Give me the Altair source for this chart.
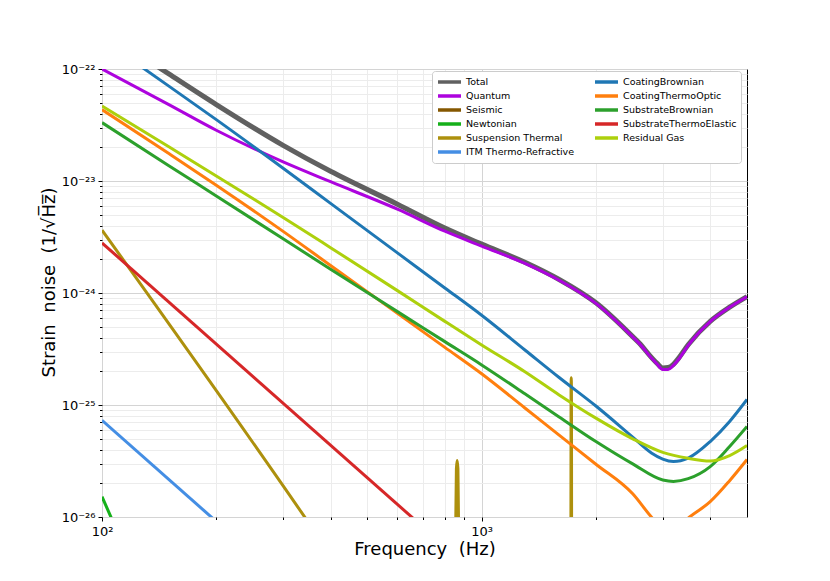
import altair as alt
import pandas as pd

# ---------------- data ----------------
grid_q = [100, 150, 200, 300, 400, 600, 800, 1000, 1300, 1600, 2000, 2500, 2600,
          2800, 2900, 3000, 3100, 3200, 3300, 3500, 4000, 4500, 5000]
total_vals = [2.22e-22, 9.03e-23, 4.81e-23, 2.08e-23, 1.22e-23, 6.21e-24, 3.80e-24,
              2.73e-24, 1.88e-24, 1.32e-24, 8.17e-25, 4.08e-25, 3.58e-25, 2.66e-25,
              2.35e-25, 2.14e-25, 2.16e-25, 2.31e-25, 2.61e-25, 3.45e-25, 5.58e-25,
              7.47e-25, 9.28e-25]
quantum_vals = [1.0e-22, 4.81e-23, 2.84e-23, 1.48e-23, 9.85e-24, 5.6e-24, 3.56e-24,
                2.62e-24, 1.84e-24, 1.30e-24, 8.07e-25, 4.05e-25, 3.55e-25, 2.63e-25,
                2.31e-25, 2.08e-25, 2.08e-25, 2.26e-25, 2.55e-25, 3.41e-25, 5.56e-25,
                7.45e-25, 9.25e-25]

cb_freq = [100, 150, 200, 300, 400, 600, 800, 1000, 1300, 1600, 2000, 2500, 2800,
           3000, 3200, 3500, 4000, 4500, 5000]
cb_vals = [1.85e-22, 7.03e-23, 3.53e-23, 1.30e-23, 6.31e-24, 2.28e-24, 1.11e-24,
           6.33e-25, 3.10e-25, 1.76e-25, 9.8e-26, 5.17e-26, 3.73e-26, 3.29e-26,
           3.13e-26, 3.36e-26, 4.72e-26, 7.13e-26, 1.12e-25]

gas_freq = [100, 150, 200, 300, 400, 600, 800, 1000, 1300, 1600, 2000, 2500, 3000,
            3500, 4000, 4500, 5000]
gas_vals = [4.67e-23, 2.02e-23, 1.11e-23, 4.73e-24, 2.54e-24, 1.05e-24, 5.58e-25,
            3.44e-25, 1.98e-25, 1.23e-25, 7.63e-26, 4.99e-26, 3.77e-26, 3.34e-26,
            3.16e-26, 3.54e-26, 4.35e-26]

cto_freq = [100, 150, 200, 300, 400, 600, 800, 1000, 1300, 1600, 2000, 2500, 2800,
            3100, 3530, 4000, 4500, 5000]
cto_vals = [4.34e-23, 1.76e-23, 9.18e-24, 3.55e-24, 1.76e-24, 6.58e-25, 3.27e-25,
            1.90e-25, 9.41e-26, 5.38e-26, 2.96e-26, 1.61e-26, 1.0e-26, 7.0e-27,
            1.0e-26, 1.37e-26, 2.11e-26, 3.26e-26]

sb_freq = [100, 150, 200, 300, 400, 600, 800, 1000, 1300, 1600, 2000, 2500, 3000,
           3200, 3500, 4000, 4500, 5000]
sb_vals = [3.32e-23, 1.37e-23, 7.35e-24, 3.05e-24, 1.63e-24, 6.82e-25, 3.68e-25,
           2.28e-25, 1.26e-25, 7.83e-26, 4.72e-26, 2.98e-26, 2.14e-26, 2.08e-26,
           2.20e-26, 2.82e-26, 4.26e-26, 6.43e-26]

ste_freq = [100, 1000]
ste_vals = [2.8e-24, 2.8e-27]

itm_freq = [100, 1000]
itm_vals = [7.3e-26, 7.3e-29]

newt_freq = [100, 120]
newt_vals = [1.52e-26, 3.7e-27]

susp_freq = [100, 400, 850, 855, 858, 862, 866, 869, 874, 1716, 1720, 1722, 1724,
             1728, 5000]
susp_vals = [3.64e-24, 4.6e-27, 1e-28, 1.0e-26, 2.7e-26, 3.2e-26, 2.7e-26, 1.0e-26,
             1e-28, 1e-28, 1.3e-25, 1.75e-25, 1.3e-25, 1e-28, 1e-28]

# legend (filled column by column, two columns)
legend_names = ["Total", "Quantum", "Seismic", "Newtonian", "Suspension Thermal",
                "ITM Thermo-Refractive", "CoatingBrownian", "CoatingThermoOptic",
                "SubstrateBrownian", "SubstrateThermoElastic", "Residual Gas"]
legend_colors = ["#606060", "#ad03de", "#855700", "#15b01a", "#ad900d",
                 "#448ee4", "#1f77b4", "#ff7f0e", "#2ca02c", "#d62728", "#add00d"]

y_major = [1e-26, 1e-25, 1e-24, 1e-23, 1e-22]
y_major_labels = ["10⁻²⁶", "10⁻²⁵", "10⁻²⁴", "10⁻²³", "10⁻²²"]
x_major = [100, 1000]
x_major_labels = ["10²", "10³"]
x_minor = [200, 300, 400, 500, 600, 700, 800, 900, 2000, 3000, 4000]

# ---------------- build table ----------------
series = [
    ("Total", grid_q, total_vals),
    ("Quantum", grid_q, quantum_vals),
    ("Newtonian", newt_freq, newt_vals),
    ("Suspension Thermal", susp_freq, susp_vals),
    ("ITM Thermo-Refractive", itm_freq, itm_vals),
    ("CoatingBrownian", cb_freq, cb_vals),
    ("CoatingThermoOptic", cto_freq, cto_vals),
    ("SubstrateBrownian", sb_freq, sb_vals),
    ("SubstrateThermoElastic", ste_freq, ste_vals),
    ("Residual Gas", gas_freq, gas_vals),
]
rows = []
for k, (name, fs, vs) in enumerate(series):
    for f, v in zip(fs, vs):
        rows.append({"freq": f, "asd": v, "noise": name, "k": k})
df = pd.DataFrame(rows)

y_minor = []
for e in range(-26, -22):
    for m in range(2, 10):
        y_minor.append(float(f"{m}e{e}"))

def label_expr(vals, labels):
    expr = "''"
    for v, l in zip(vals, labels):
        expr = f"datum.value == {v!r} ? '{l}' : " + expr
    return expr

major_test = "abs(log(datum.value)/LN10 - round(log(datum.value)/LN10)) < 0.001"
SP = " \u00a0"

x_axis = alt.Axis(
    values=x_major + x_minor,
    labelExpr=label_expr(x_major, x_major_labels),
    tickSize={"condition": {"test": major_test, "value": 4}, "value": 2.5},
    gridColor={"condition": {"test": major_test, "value": "#d4d4d4"}, "value": "#ececec"},
    labelPadding=4,
    labelFlush=False,
    labelOverlap=False,
    domain=False,
    titleY=32,
    titleBaseline="middle",
)
y_axis = alt.Axis(
    values=y_major + y_minor,
    labelExpr=label_expr(y_major, y_major_labels),
    tickSize={"condition": {"test": major_test, "value": 4}, "value": 2.5},
    gridColor={"condition": {"test": major_test, "value": "#d4d4d4"}, "value": "#ececec"},
    labelPadding=3,
    labelOverlap=False,
    domain=False,
    titleX=-53,
    titleY=213,
    titleAngle=270,
    titleBaseline="middle",
    titleAlign="center",
)

x_enc = alt.X("freq:Q", scale=alt.Scale(type="log", domain=[100, 5000], nice=False),
              axis=x_axis, title=f"Frequency{SP}(Hz)")
y_enc = alt.Y("asd:Q", scale=alt.Scale(type="log", domain=[1e-26, 1e-22], nice=False),
              axis=y_axis, title=f"Strain{SP}noise{SP}(1/√H̅z̅)")
color_enc = alt.Color(
    "noise:N",
    scale=alt.Scale(domain=legend_names, range=legend_colors),
    legend=alt.Legend(
        orient="none", legendX=330, legendY=2, columns=2, title=None,
        symbolType="M-1,0H3.6", symbolSize=100, symbolStrokeWidth=3.5,
        labelFont="DejaVu Sans", labelFontSize=9.5, labelColor="black",
        labelOffset=16, labelLimit=250, gridAlign="each",
        rowPadding=0, columnPadding=13, padding=4,
        strokeColor="#cccccc", fillColor="white", cornerRadius=3,
    ),
)

base = alt.Chart(df)
total_layer = base.transform_filter(alt.datum.noise == "Total").mark_line(
    strokeWidth=5, clip=True, interpolate="monotone"
).encode(x=x_enc, y=y_enc, color=color_enc)
comp_layer = base.transform_filter(alt.datum.noise != "Total").mark_line(
    strokeWidth=3, clip=True, interpolate="monotone"
).encode(x=x_enc, y=y_enc, color=color_enc, detail="k:N")

chart = alt.layer(total_layer, comp_layer).properties(
    width=645, height=448,
    autosize=alt.AutoSizeParams(type="none"),
    padding={"left": 94, "top": 61, "right": 75, "bottom": 56},
    background="white",
).configure_view(
    stroke="black", strokeWidth=1
).configure_axis(
    labelFont="DejaVu Sans", labelFontSize=13, labelColor="black",
    titleFont="DejaVu Sans", titleFontSize=18, titleFontWeight="normal",
    titleColor="black", tickColor="black", tickWidth=1,
)

chart.save("out.html", embed_options={"renderer": "svg", "actions": False})
